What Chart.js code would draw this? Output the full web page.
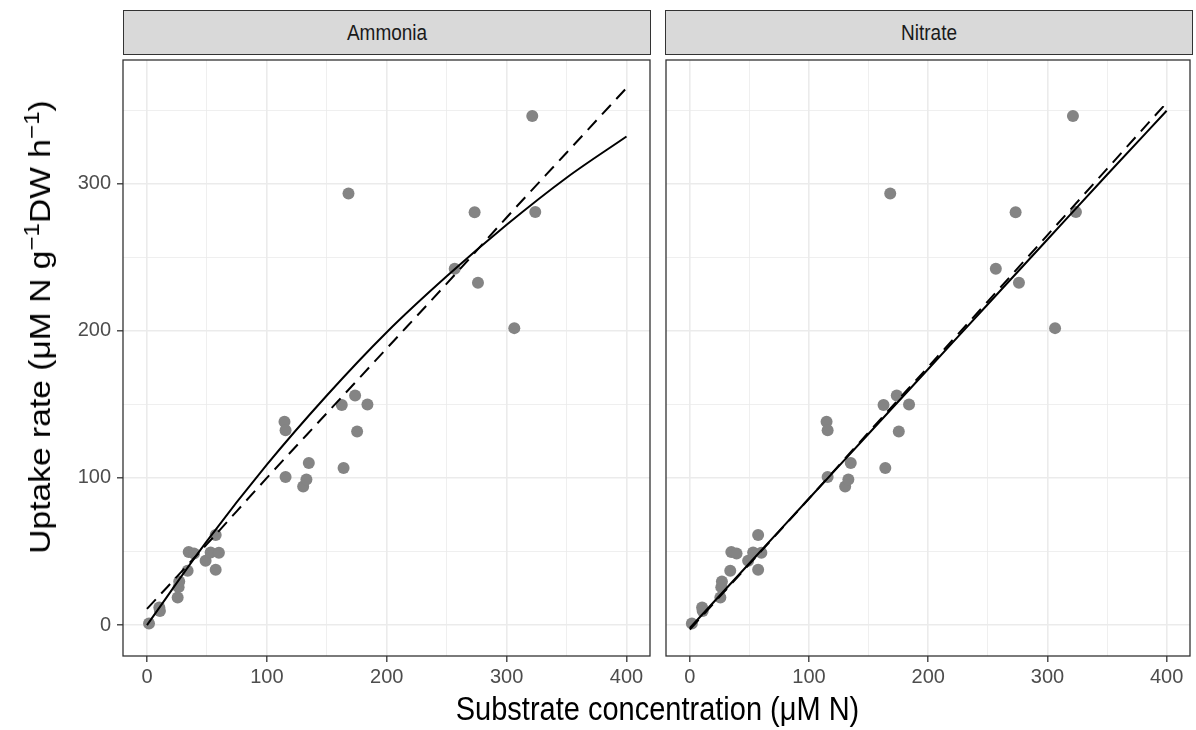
<!DOCTYPE html>
<html>
<head>
<meta charset="utf-8">
<script src="https://cdn.jsdelivr.net/npm/chart.js@4/dist/chart.umd.min.js"></script>
<style>
  body { margin: 0; background: #fff; font-family: "Liberation Sans", Arial, sans-serif; }
  #wrap { position: relative; width: 1196px; height: 730px; overflow: hidden; }
  .box { position: absolute; }
  .strip {
    position: absolute; top: 10px; height: 45px; background: #d9d9d9;
    border: 1.3px solid #333; box-sizing: border-box;
    color: #1a1a1a; font-size: 19px; line-height: 43px; text-align: center;
  }
  .strip span { display: inline-block; transform: scale(1, 1.12); }
  #xtitle {
    position: absolute; left: 123px; width: 1069px; top: 693px; text-align: center;
    font-size: 29px; color: #000; transform: scale(1, 1.12);
  }
  #ytitle {
    position: absolute; left: 40px; top: 327px; white-space: nowrap; font-size: 30px; color: #000;
    transform: translate(-50%, -50%) scale(1, 1.12) rotate(-90deg);
  }
  #ytitle sup { font-size: 72%; line-height: 0; }
</style>
</head>
<body>
<div id="wrap">
  <div class="strip" style="left:123px; width:528px;"><span>Ammonia</span></div>
  <div class="strip" style="left:665px; width:528px;"><span>Nitrate</span></div>
  <div class="box" style="left:0; top:54px; width:660px; height:641px;"><canvas id="chartA"></canvas></div>
  <div class="box" style="left:660px; top:54px; width:536px; height:641px;"><canvas id="chartN"></canvas></div>
  <div id="ytitle">Uptake rate (&mu;M N g<sup>&minus;1</sup>DW h<sup>&minus;1</sup>)</div>
  <div id="xtitle">Substrate concentration (&mu;M N)</div>
</div>
<script>
// --- Observations (same points shown in both facets) ---
const concentration = [1.7, 10.3, 10.8, 25.6, 26.4, 26.9, 33.9, 34.8, 39.2, 48.9, 53.1, 60, 57.3, 57.3,
    114.7, 115.6, 115.6, 130.3, 133, 135, 162.5, 173.6, 183.9, 175.3, 164, 168.1,
    256.7, 273.3, 276.1, 306.4, 321.4, 323.9];
const uptake = [1.1, 11.9, 9.6, 18.7, 25.8, 29.7, 36.9, 49.7, 48.6, 43.8, 49.4, 49.2, 37.6, 61.2,
    138.2, 132.4, 100.7, 94.2, 98.9, 110.1, 149.5, 156, 149.9, 131.5, 106.7, 293.3,
    242.1, 280.5, 232.6, 201.8, 345.9, 280.7];

// --- Fitted curves ---
const curveX = [0, 50, 100, 150, 200, 250, 300, 350, 400];
const ammoniaSolid = [0, 57, 109, 156, 199, 237, 272, 304, 332];
const ammoniaDashed = [11, 55, 100, 144, 188, 232, 277, 321, 365];
const nitrateSolid = [-2, 42, 86, 130, 174, 218, 262, 306, 349.5];
const nitrateDashed = [-3, 41.5, 86, 131, 175.5, 220, 265, 310, 355];

// --- Axes ---
const xTicks = [0, 50, 100, 150, 200, 250, 300, 350, 400];
const yTicks = [0, 50, 100, 150, 200, 250, 300, 350];
const xRange = [-20, 419.6];
const yRange = [-21, 384];

const toXY = (xs, ys) => xs.map((x, i) => ({ x: x, y: ys[i] }));

// panel border, like ggplot theme_bw
const panelBorder = {
    id: 'panelBorder',
    afterDraw(chart) {
        const a = chart.chartArea;
        const ctx = chart.ctx;
        ctx.save();
        ctx.strokeStyle = '#333333';
        ctx.lineWidth = 1.3;
        ctx.strokeRect(a.left, a.top, a.right - a.left, a.bottom - a.top);
        ctx.restore();
    }
};

const isMajor = v => v % 100 === 0;

function gridOpts(showTicks) {
    return {
        color: '#ebebeb',
        lineWidth: c => (c.tick && isMajor(c.tick.value)) ? 1.6 : 0.8,
        drawTicks: showTicks,
        tickLength: 6,
        tickWidth: 1.3,
        tickColor: c => (c.tick && isMajor(c.tick.value)) ? '#333333' : 'rgba(0,0,0,0)'
    };
}

function makeChart(id, solid, dashed, showY) {
    const ctx = document.getElementById(id);
    return new Chart(ctx, {
        type: 'scatter',
        data: {
            datasets: [
                {
                    label: 'solid',
                    data: toXY(curveX, solid),
                    showLine: true,
                    borderColor: '#000000',
                    borderWidth: 2,
                    pointRadius: 0,
                    cubicInterpolationMode: 'monotone',
                    order: 0
                },
                {
                    label: 'dashed',
                    data: toXY(curveX, dashed),
                    showLine: true,
                    borderColor: '#000000',
                    borderWidth: 2,
                    borderDash: [13, 8],
                    pointRadius: 0,
                    cubicInterpolationMode: 'monotone',
                    order: 0
                },
                {
                    label: 'observed',
                    data: toXY(concentration, uptake),
                    pointRadius: 6,
                    pointBackgroundColor: '#848484',
                    pointBorderWidth: 0,
                    order: 1
                }
            ]
        },
        options: {
            responsive: true,
            maintainAspectRatio: false,
            animation: false,
            layout: { padding: { top: 1, right: showY ? 10 : 4, left: 0, bottom: 0 } },
            plugins: { legend: { display: false }, tooltip: { enabled: false } },
            scales: {
                x: {
                    type: 'linear',
                    min: xRange[0],
                    max: xRange[1],
                    afterBuildTicks: s => { s.ticks = xTicks.map(v => ({ value: v })); },
                    afterFit: s => { s.height = 39; s.paddingLeft = 0; s.paddingRight = 0; },
                    border: { display: false },
                    grid: gridOpts(true),
                    ticks: {
                        color: '#4d4d4d',
                        font: { family: '"Liberation Sans", Arial', size: 20 },
                        padding: 3,
                        maxRotation: 0,
                        autoSkip: false,
                        callback: v => isMajor(v) ? v : ''
                    }
                },
                y: {
                    type: 'linear',
                    min: yRange[0],
                    max: yRange[1],
                    afterBuildTicks: s => { s.ticks = yTicks.map(v => ({ value: v })); },
                    afterFit: s => { s.width = showY ? 123 : 5; s.paddingTop = 0; s.paddingBottom = 0; },
                    border: { display: false },
                    grid: gridOpts(showY),
                    ticks: {
                        display: showY,
                        color: '#4d4d4d',
                        font: { family: '"Liberation Sans", Arial', size: 20 },
                        padding: 6,
                        autoSkip: false,
                        callback: v => isMajor(v) ? v : ''
                    }
                }
            }
        },
        plugins: [panelBorder]
    });
}

makeChart('chartA', ammoniaSolid, ammoniaDashed, true);
makeChart('chartN', nitrateSolid, nitrateDashed, false);
</script>
</body>
</html>
